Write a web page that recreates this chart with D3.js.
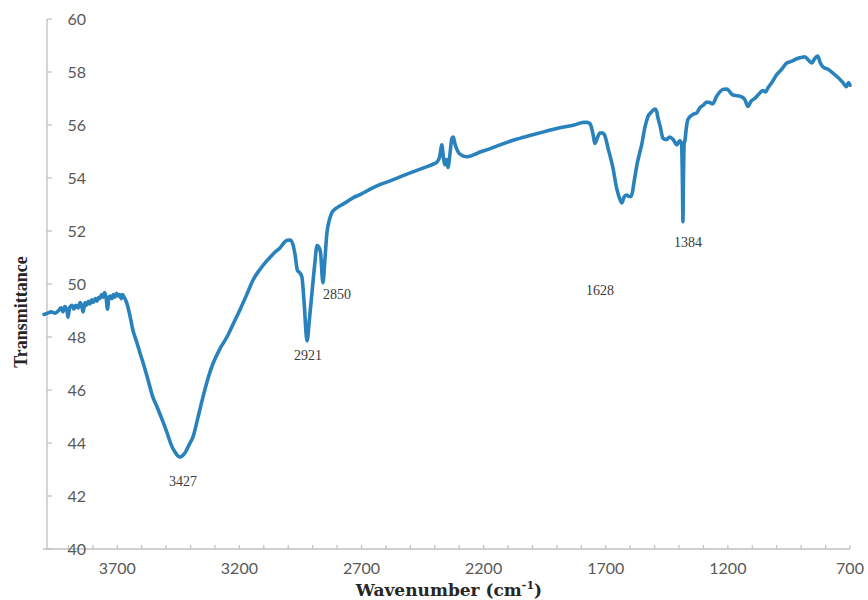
<!DOCTYPE html>
<html>
<head>
<meta charset="utf-8">
<script src="https://cdn.jsdelivr.net/npm/d3@7"></script>
<style>
  html, body { margin: 0; padding: 0; background: #fff; }
  svg { display: block; }
</style>
</head>
<body>
<svg id="chart" width="868" height="600"></svg>
<script>
// ---- data ----
const wavenumber = [
  4000, 3985, 3970, 3955, 3940, 3930, 3922, 3915, 3906, 3902, 3895, 3885, 3878, 3870,
  3860, 3852, 3845, 3840, 3832, 3826, 3818, 3812, 3805, 3798, 3790, 3783, 3776, 3771,
  3764, 3758, 3752, 3746, 3740, 3734, 3728, 3722, 3716, 3710, 3703, 3697, 3690, 3684,
  3678, 3672, 3666, 3660, 3648, 3636, 3620, 3607, 3590, 3574, 3555, 3537, 3515, 3496,
  3480, 3464, 3443, 3423, 3405, 3390, 3370, 3349, 3328, 3308, 3280, 3251, 3225, 3198,
  3170, 3144, 3116, 3095, 3075, 3055, 3034, 3018, 3005, 2993, 2981, 2972, 2962, 2955,
  2944, 2935, 2923, 2913, 2903, 2892, 2882, 2875, 2868, 2858, 2850, 2842, 2832, 2821,
  2805, 2788, 2760, 2735, 2700, 2660, 2625, 2580, 2540, 2490, 2440, 2400, 2391, 2380,
  2371, 2365, 2359, 2352, 2346, 2338, 2330, 2324, 2318, 2308, 2297, 2269, 2240, 2215,
  2175, 2133, 2070, 2011, 1950, 1888, 1830, 1790, 1777, 1765, 1757, 1750, 1745, 1735,
  1724, 1713, 1704, 1690, 1671, 1655, 1642, 1634, 1624, 1614, 1605, 1597, 1590, 1585,
  1570, 1552, 1540, 1528, 1512, 1499, 1493, 1487, 1476, 1466, 1452, 1438, 1424, 1409,
  1402, 1397, 1390, 1386, 1384, 1382, 1379, 1376, 1370, 1364, 1343, 1328, 1315, 1300,
  1286, 1275, 1262, 1248, 1233, 1218, 1204, 1192, 1180, 1160, 1143, 1130, 1118, 1105,
  1090, 1075, 1057, 1045, 1036, 1020, 1000, 980, 959, 940, 918, 900, 885, 870,
  856, 845, 832, 822, 811, 790, 770, 750, 729, 715, 706, 700
];
const transmittance = [
  48.85, 48.9, 48.95, 48.9, 49.0, 49.1, 48.95, 49.15, 49.0, 48.75, 49.1, 49.2, 49.05, 49.2,
  49.1, 49.3, 49.15, 48.95, 49.3, 49.2, 49.35, 49.25, 49.4, 49.3, 49.45, 49.35, 49.5, 49.45,
  49.6, 49.5, 49.68, 49.5, 49.05, 49.5, 49.55, 49.45, 49.6, 49.5, 49.65, 49.55, 49.6, 49.45,
  49.6, 49.5, 49.4, 49.25, 48.8, 48.26, 47.8, 47.4, 46.9, 46.38, 45.75, 45.36, 44.85, 44.38,
  43.95, 43.66, 43.47, 43.62, 43.95, 44.23, 44.95, 45.74, 46.45, 47.0, 47.55, 48.0, 48.5, 49.02,
  49.6, 50.15, 50.55, 50.8, 51.0, 51.2, 51.36, 51.55, 51.65, 51.66, 51.5, 51.1, 50.5, 50.45,
  50.26, 49.3, 47.85, 48.7, 49.66, 50.7, 51.45, 51.4, 51.2, 50.05, 50.9, 51.9, 52.4, 52.7,
  52.85, 52.95, 53.1, 53.25, 53.4, 53.6, 53.75, 53.9, 54.05, 54.23, 54.4, 54.55, 54.6, 54.8,
  55.25, 54.8, 54.5, 54.7, 54.4, 54.9, 55.5, 55.55, 55.3, 55.05, 54.9, 54.8, 54.88, 54.98,
  55.1, 55.25, 55.45, 55.6, 55.75, 55.9, 56.0, 56.1, 56.1, 56.05, 55.85, 55.55, 55.3, 55.5,
  55.7, 55.7, 55.6, 55.1, 54.4, 53.6, 53.2, 53.06, 53.3, 53.36, 53.3, 53.3, 53.5, 53.8,
  54.6, 55.3, 55.9, 56.3, 56.5, 56.6, 56.55, 56.3, 55.9, 55.5, 55.45, 55.55, 55.45, 55.25,
  55.35, 55.4, 55.3, 53.8, 52.35, 53.9, 55.3, 55.4, 55.9, 56.2, 56.4, 56.45, 56.65, 56.75,
  56.87, 56.85, 56.8, 57.05, 57.25, 57.35, 57.36, 57.25, 57.13, 57.1, 57.06, 56.95, 56.7, 56.9,
  57.0, 57.15, 57.3, 57.25, 57.4, 57.6, 57.9, 58.1, 58.34, 58.4, 58.5, 58.55, 58.57, 58.45,
  58.34, 58.5, 58.6, 58.35, 58.2, 58.1, 57.96, 57.8, 57.6, 57.45, 57.6, 57.5
];
const xTicks = [3700, 3200, 2700, 2200, 1700, 1200, 700];
const yTicks = [40, 42, 44, 46, 48, 50, 52, 54, 56, 58, 60];
// peak annotations: label text, anchor wavenumber, anchor transmittance
const peakNames = ["3427", "2921", "2850", "1628", "1384"];
const peakLabelWn = [3431, 2919, 2800, 1724, 1363];
const peakLabelT = [42.38, 47.13, 49.43, 49.6, 51.4];

// ---- layout ----
const svg = d3.select("#chart");
const mLeft = 44, mRight = 850, mTop = 19, mBottom = 549;

const x = d3.scaleLinear().domain([4000, 700]).range([mLeft, mRight]);
const y = d3.scaleLinear().domain([40, 60]).range([mBottom, mTop]);

const axisColor = "#bfbfbf";
const labelColor = "#595959";

// x axis line + minor ticks (every 100) pointing up
svg.append("line")
  .attr("x1", mLeft - 1).attr("x2", mRight)
  .attr("y1", mBottom).attr("y2", mBottom)
  .attr("stroke", axisColor).attr("stroke-width", 1.3);

const minor = d3.range(3900, 699, -100);
svg.append("g").selectAll("line").data(minor).join("line")
  .attr("x1", d => x(d)).attr("x2", d => x(d))
  .attr("y1", mBottom).attr("y2", mBottom - 4)
  .attr("stroke", axisColor).attr("stroke-width", 1.2);

svg.append("g").selectAll("text").data(xTicks).join("text")
  .attr("x", d => x(d)).attr("y", mBottom + 25)
  .attr("text-anchor", "middle")
  .attr("font-family", "Lato, 'Open Sans', sans-serif")
  .attr("font-size", 16)
  .attr("fill", labelColor)
  .text(d => d);

// y axis
const yAxisX = 47;
svg.append("line")
  .attr("x1", yAxisX).attr("x2", yAxisX)
  .attr("y1", mTop).attr("y2", mBottom)
  .attr("stroke", axisColor).attr("stroke-width", 1.3);

svg.append("g").selectAll("line").data(yTicks).join("line")
  .attr("x1", yAxisX).attr("x2", yAxisX + 5)
  .attr("y1", d => y(d)).attr("y2", d => y(d))
  .attr("stroke", axisColor).attr("stroke-width", 1.2);

svg.append("g").selectAll("text").data(yTicks).join("text")
  .attr("x", 86).attr("y", d => y(d) + 5.5)
  .attr("text-anchor", "end")
  .attr("font-family", "Lato, 'Open Sans', sans-serif")
  .attr("font-size", 16)
  .attr("fill", labelColor)
  .text(d => d);

// spectrum line
const pts = wavenumber.map((w, i) => [w, transmittance[i]]);
const path = d3.line()
  .x(d => x(d[0]))
  .y(d => y(d[1]))
  .curve(d3.curveMonotoneX);

svg.append("path")
  .datum(pts)
  .attr("d", path)
  .attr("fill", "none")
  .attr("stroke", "#2a82bd")
  .attr("stroke-width", 3.6)
  .attr("stroke-linejoin", "round")
  .attr("stroke-linecap", "round");

// peak labels
svg.append("g").selectAll("text").data(peakNames).join("text")
  .attr("x", (d, i) => x(peakLabelWn[i]))
  .attr("y", (d, i) => y(peakLabelT[i]))
  .attr("text-anchor", "middle")
  .attr("font-family", "'Liberation Serif', 'Times New Roman', serif")
  .attr("font-size", 14)
  .attr("fill", "#3a3a3a")
  .text(d => d);

// axis titles
const xt = svg.append("text")
  .attr("x", 449).attr("y", 596)
  .attr("text-anchor", "middle")
  .attr("font-family", "'DejaVu Serif', serif")
  .attr("font-weight", "bold")
  .attr("font-size", 17)
  .attr("fill", "#262626");
xt.append("tspan").text("Wavenumber (cm");
xt.append("tspan").attr("dy", -7).attr("font-size", 11).text("-1");
xt.append("tspan").attr("dy", 7).text(")");

svg.append("text")
  .attr("transform", "translate(27,312) rotate(-90)")
  .attr("text-anchor", "middle")
  .attr("font-family", "'Liberation Serif', 'Times New Roman', serif")
  .attr("font-weight", "bold")
  .attr("font-size", 18)
  .attr("fill", "#262626")
  .text("Transmittance");
</script>
</body>
</html>
